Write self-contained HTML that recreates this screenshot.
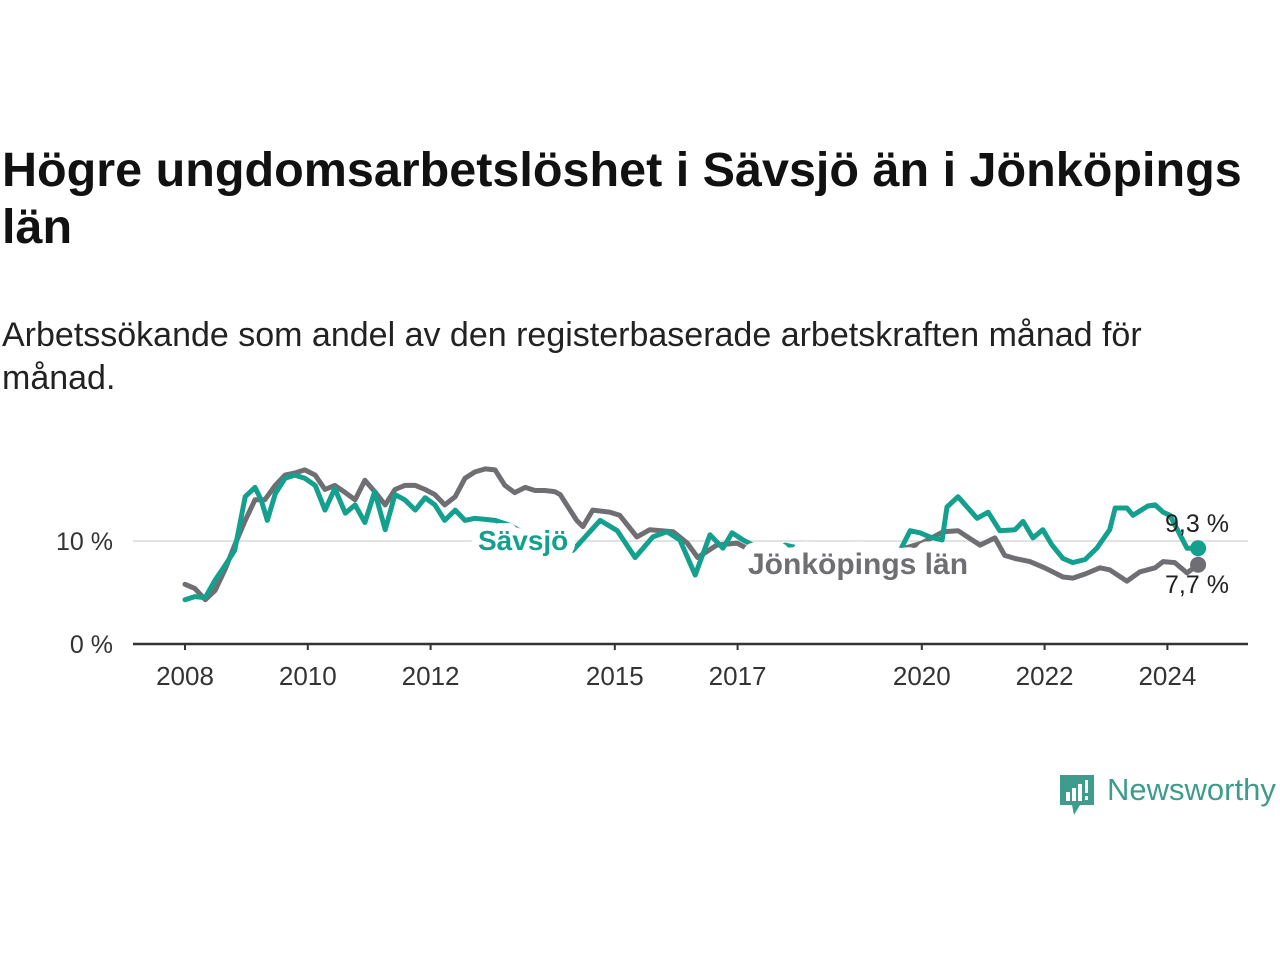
<!DOCTYPE html>
<html><head><meta charset="utf-8"><style>
body{margin:0;width:1280px;height:960px;background:#fff;font-family:"Liberation Sans",sans-serif;overflow:hidden;position:relative}
h1{position:absolute;left:2px;top:142px;margin:0;font-size:48.5px;line-height:57px;font-weight:bold;color:#111}
p.sub{position:absolute;left:2px;top:314px;margin:0;font-size:34px;line-height:43px;color:#222}
svg{position:absolute;left:0;top:0}
</style></head><body>
<h1>Högre ungdomsarbetslöshet i Sävsjö än i Jönköpings<br>län</h1>
<p class="sub">Arbetssökande som andel av den registerbaserade arbetskraften månad för<br>månad.</p>
<svg id="chart" width="1280" height="960"></svg>
<div style="position:absolute;left:1060px;top:775px;">
<svg width="34" height="42" style="position:static"><path d="M0 0H34V30H20L14 40L12 30H0Z" fill="#3e9c8c"/><rect x="6" y="17" width="4" height="9" fill="#fff"/><rect x="12" y="13" width="4" height="13" fill="#fff"/><rect x="18" y="9" width="4" height="17" fill="#fff"/><rect x="25" y="5" width="3" height="13" fill="#fff"/><rect x="25" y="21" width="3" height="4" fill="#fff"/></svg>
<span style="position:absolute;left:47px;top:-3px;font-size:31px;color:#3e9c8c;white-space:nowrap">Newsworthy</span></div>
<script>
const savsjoYears=[2008.0,2008.16,2008.33,2008.49,2008.65,2008.81,2008.98,2009.14,2009.24,2009.34,2009.47,2009.63,2009.79,2009.95,2010.12,2010.28,2010.44,2010.61,2010.77,2010.93,2011.09,2011.26,2011.42,2011.58,2011.75,2011.91,2012.07,2012.23,2012.4,2012.56,2012.72,2012.89,2013.05,2013.3,2013.6,2013.9,2014.1,2014.32,2014.76,2015.04,2015.33,2015.62,2015.85,2016.06,2016.31,2016.55,2016.76,2016.91,2017.09,2017.25,2017.5,2017.77,2017.93,2018.15,2018.37,2018.7,2019.16,2019.4,2019.65,2019.81,2019.97,2020.13,2020.33,2020.41,2020.59,2020.9,2021.08,2021.27,2021.52,2021.65,2021.81,2021.97,2022.12,2022.3,2022.46,2022.66,2022.85,2023.06,2023.15,2023.34,2023.44,2023.68,2023.8,2023.93,2024.04,2024.32,2024.5];
const savsjoValues=[4.3,4.6,4.5,6.2,7.6,9.1,14.3,15.2,14,12,14.6,16.1,16.4,16.1,15.4,13,15.1,12.7,13.5,11.8,14.8,11.1,14.5,14,13,14.2,13.5,12,13,12,12.2,12.1,12,11.5,10.5,10,9.5,9.1,12,11,8.4,10.4,10.9,10.1,6.7,10.6,9.3,10.8,10.1,9.6,8.8,9.6,9.4,8.3,6.4,8.2,8.8,8.9,9.1,11,10.8,10.4,10.1,13.3,14.3,12.2,12.8,11,11.1,11.9,10.3,11.1,9.6,8.3,7.9,8.2,9.3,11.1,13.2,13.2,12.5,13.4,13.5,12.8,12.5,9.3,9.3];
const lanYears=[2008.0,2008.16,2008.33,2008.49,2008.65,2008.81,2008.98,2009.14,2009.3,2009.47,2009.63,2009.79,2009.95,2010.12,2010.28,2010.44,2010.61,2010.77,2010.93,2011.09,2011.26,2011.42,2011.58,2011.75,2011.91,2012.07,2012.23,2012.4,2012.56,2012.72,2012.89,2013.05,2013.21,2013.37,2013.54,2013.7,2013.86,2014.02,2014.11,2014.38,2014.48,2014.64,2014.92,2015.08,2015.36,2015.57,2015.95,2016.18,2016.35,2016.66,2016.99,2017.15,2017.6,2018.0,2018.5,2019.0,2019.5,2020.0,2020.35,2020.59,2020.95,2021.19,2021.35,2021.52,2021.76,2022.0,2022.3,2022.46,2022.66,2022.9,2023.06,2023.34,2023.55,2023.8,2023.93,2024.12,2024.32,2024.5];
const lanValues=[5.8,5.4,4.3,5.2,7.2,9.6,12,14,14,15.4,16.4,16.6,16.9,16.4,15,15.4,14.7,14,15.9,14.8,13.5,15,15.4,15.4,15,14.5,13.5,14.3,16.1,16.7,17,16.9,15.4,14.7,15.2,14.9,14.9,14.8,14.5,12,11.4,13,12.8,12.5,10.4,11.1,10.9,9.8,8.4,9.6,9.8,9.3,8.9,8.7,8.6,8.6,8.9,9.8,10.9,11,9.6,10.3,8.6,8.3,8,7.4,6.5,6.4,6.8,7.4,7.2,6.1,7,7.4,8,7.9,6.9,7.7];
const yTicks=[0,10];
const yTickLabels=["0 %","10 %"];
const xTicks=[2008,2010,2012,2015,2017,2020,2022,2024];
const NS="http://www.w3.org/2000/svg";
const svg=document.getElementById('chart');
const x=t=>185+(t-2008)*61.4;
const y=v=>644-v*10.3;
function mk(tag,attrs,parent){const e=document.createElementNS(NS,tag);for(const k in attrs)e.setAttribute(k,attrs[k]);(parent||svg).appendChild(e);return e;}
yTicks.forEach((v,i)=>{
  if(v>0){const g=mk('line',{x1:133,x2:1248,y1:y(v),y2:y(v),stroke:'#d8d8d8','stroke-width':1.5});
  
  }
  const t=mk('text',{x:113,y:y(v)+9,'text-anchor':'end','font-size':25,fill:'#333','font-family':'Liberation Sans, sans-serif'});
  t.textContent=yTickLabels[i];
  
  
});
const ax=mk('line',{x1:133,x2:1248,y1:644,y2:644,stroke:'#333','stroke-width':2.5});


xTicks.forEach(yr=>{
  const tk=mk('line',{x1:x(yr),x2:x(yr),y1:644,y2:650,stroke:'#333','stroke-width':2});
  
  
  const t=mk('text',{x:x(yr),y:685,'text-anchor':'middle','font-size':26,fill:'#333','font-family':'Liberation Sans, sans-serif'});
  t.textContent=yr;
  
  
});
function line(xs,vs,color,name){
  const d=xs.map((t,i)=>(i?'L':'M')+x(t).toFixed(1)+' '+y(vs[i]).toFixed(1)).join(' ');
  const p=mk('path',{d:d,fill:'none',stroke:color,'stroke-width':5,'stroke-linejoin':'round','stroke-linecap':'round'});
  
  
  const n=xs.length-1;
  const c=mk('circle',{cx:x(xs[n]),cy:y(vs[n]),r:8,fill:color});
  
  
}
line(lanYears,lanValues,'#6f6e72','line-jonkopings-lan');
line(savsjoYears,savsjoValues,'#13a08e','line-savsjo');
function label(txt,xx,yy,color,bold,size,name,halo){
  const t=mk('text',{x:xx,y:yy,'font-size':size,'font-weight':bold?'bold':'normal',fill:color,'font-family':'Liberation Sans, sans-serif',stroke:'#fff','stroke-width':halo,'paint-order':'stroke','stroke-linejoin':'round'});
  t.textContent=txt;
  
  
}
label('Sävsjö',478,550,'#13a08e',true,28,'label-savsjo',16);
label('Jönköpings län',748,574,'#6f6e72',true,30,'label-jonkopings-lan',22);
label(savsjoValues[savsjoValues.length-1].toFixed(1).replace('.',',')+' %',1165,532,'#222',false,25,'value-label-savsjo',0);
label(lanValues[lanValues.length-1].toFixed(1).replace('.',',')+' %',1165,593,'#222',false,25,'value-label-lan',0);
</script>
</body></html>
